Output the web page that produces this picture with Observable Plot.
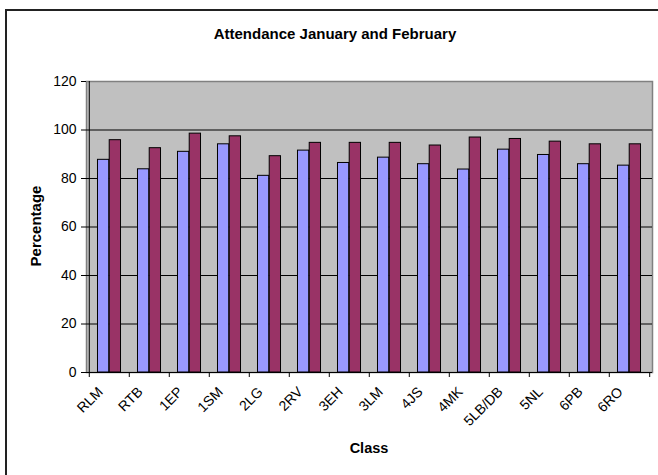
<!DOCTYPE html>
<html>
<head>
<meta charset="utf-8">
<script src="https://cdn.jsdelivr.net/npm/d3@7"></script>
<script src="https://cdn.jsdelivr.net/npm/@observablehq/plot@0.6"></script>
<style>
  html, body { margin: 0; padding: 0; background: #fff; }
  #wrap { position: relative; width: 658px; height: 475px; overflow: hidden; font-family: "Liberation Sans", Arial, sans-serif; color: #000; }
  #border { position: absolute; left: 5px; top: 9px; width: 700px; height: 520px; border-left: 2px solid #222; border-top: 2px solid #222; box-sizing: border-box; }
  #chart { position: absolute; left: 0; top: 0; }
  .lbl { position: absolute; font-weight: bold; white-space: nowrap; }
  #title { left: 6px; width: 658px; top: 26px; text-align: center; font-size: 15px; line-height: 15px; }
  #xlab { left: 86px; width: 566px; top: 441px; text-align: center; font-size: 14.5px; line-height: 15px; }
  #ylab { left: 35px; top: 226px; font-size: 15px; line-height: 15px; transform: translate(-50%, -50%) rotate(-90deg); }
</style>
</head>
<body>
<div id="wrap">
  <div id="border"></div>
  <div id="chart"></div>
  <div class="lbl" id="title">Attendance January and February</div>
  <div class="lbl" id="ylab">Percentage</div>
  <div class="lbl" id="xlab">Class</div>
</div>
<script>
const classes = ["RLM", "RTB", "1EP", "1SM", "2LG", "2RV", "3EH", "3LM", "4JS", "4MK", "5LB/DB", "5NL", "6PB", "6RO"];
const january = [87.7, 83.8, 91.0, 94.1, 81.1, 91.5, 86.4, 88.6, 85.9, 83.7, 91.9, 89.7, 85.9, 85.3];
const february = [95.8, 92.5, 98.5, 97.4, 89.2, 94.7, 94.7, 94.7, 93.6, 96.9, 96.3, 95.2, 94.1, 94.1];
const yTicks = [0, 20, 40, 60, 80, 100, 120];
const gridTicks = [20, 40, 60, 80, 100];

const rows = classes.map((c, i) => ({cls: c, jan: january[i], feb: february[i]}));

const W = 658, H = 475, mL = 86, mR = 6, mT = 81, mB = 103;
const step = (W - mL - mR) / classes.length;
const barW = step * 0.29;
const outer = (step - 2 * barW) / 2;

const chart = Plot.plot({
  width: W,
  height: H,
  marginLeft: mL,
  marginRight: mR,
  marginTop: mT,
  marginBottom: mB,
  style: {fontFamily: "'Liberation Sans', Arial, sans-serif", background: "transparent", color: "#000", overflow: "visible"},
  x: {domain: classes, padding: 0, axis: null},
  y: {domain: [0, 120], axis: null},
  marks: [
    Plot.frame({fill: "#c0c0c0", stroke: "#808080", strokeWidth: 1.5}),
    Plot.gridY(gridTicks, {stroke: "#000", strokeOpacity: 1, strokeWidth: 1}),
    Plot.barY(rows, {x: "cls", y: "jan", fill: "#9999ff", stroke: "#000", strokeWidth: 1, insetLeft: outer, insetRight: outer + barW}),
    Plot.barY(rows, {x: "cls", y: "feb", fill: "#993366", stroke: "#000", strokeWidth: 1, insetLeft: outer + barW, insetRight: outer}),
    Plot.ruleY([0], {stroke: "#000", strokeWidth: 1}),
    Plot.ruleX([classes[0]], {dx: -step / 2, stroke: "#000", strokeWidth: 1}),
    Plot.axisX({ticks: classes, tickSize: 5, tickFormat: () => "", dx: -step / 2, label: null, stroke: "#000"}),
    Plot.axisX({ticks: [classes[classes.length - 1]], tickSize: 5, tickFormat: () => "", dx: step / 2, label: null, stroke: "#000"}),
    Plot.axisX({ticks: classes, tickSize: 0, tickPadding: 17, tickRotate: -45, dx: -9, fontSize: 14, label: null, fill: "#000"}),
    Plot.axisY({ticks: yTicks, tickSize: 5, tickPadding: 5, fontSize: 14, label: null, tickFormat: d => String(d), stroke: "#000", fill: "#000"})
  ]
});
document.getElementById("chart").appendChild(chart);
</script>
</body>
</html>
